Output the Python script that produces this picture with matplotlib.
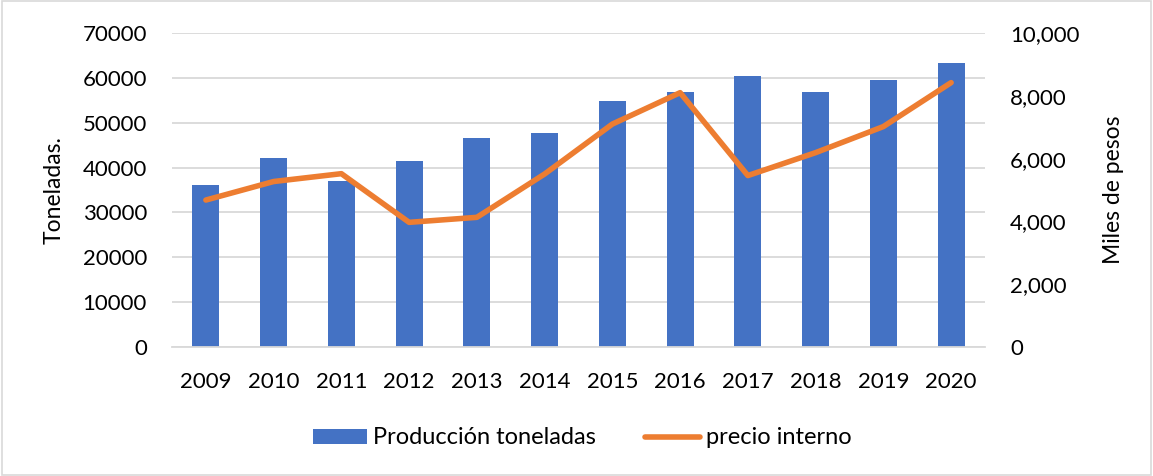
import matplotlib.pyplot as plt
from matplotlib.ticker import FuncFormatter
import numpy as np

plt.rcParams['font.family'] = ['Lato', 'DejaVu Sans']

# datos
anios = ['2009', '2010', '2011', '2012', '2013', '2014',
         '2015', '2016', '2017', '2018', '2019', '2020']
produccion = [36050, 42200, 37100, 41550, 46600, 47600,
              54800, 56750, 60450, 56900, 59600, 63350]
precio = [4680, 5270, 5520, 3970, 4130, 5510,
          7100, 8100, 5460, 6190, 7020, 8420]

azul = '#4472C4'
naranja = '#ED7D31'
gris = '#D9D9D9'

fig = plt.figure(figsize=(11.53, 4.76), dpi=100)
ax = fig.add_axes([172/1153, 1 - 347/476, (985-172)/1153, (347-33)/476])
x = np.arange(len(anios))

ax.bar(x, produccion, width=0.4, color=azul, zorder=2, label='Producción toneladas')
ax.set_xlim(-0.5, len(anios) - 0.5)
ax.set_ylim(0, 70000)
ax.set_yticks(range(0, 70001, 10000))
ax.set_xticks(x)
ax.set_xticklabels(anios)
ax.grid(axis='y', color=gris, lw=1.3, zorder=0)
for s in ['top', 'left', 'right']:
    ax.spines[s].set_visible(False)
ax.spines['bottom'].set_color(gris)
ax.spines['bottom'].set_linewidth(1.3)
ax.tick_params(length=0, labelsize=16, pad=18)
ax.set_ylabel('Toneladas.', fontsize=16.5, labelpad=13)

ax2 = ax.twinx()
ax2.plot(x, precio, color=naranja, lw=4, solid_capstyle='round', zorder=3, label='precio interno')
ax2.set_ylim(0, 10000)
ax2.set_yticks(range(0, 10001, 2000))
ax2.yaxis.set_major_formatter(FuncFormatter(lambda v, p: f'{int(v):,}'))
for s in ['top', 'left', 'right', 'bottom']:
    ax2.spines[s].set_visible(False)
ax2.tick_params(length=0, labelsize=16, pad=18)
ax2.set_ylabel('Miles de pesos', fontsize=16.5, labelpad=17)

h1, l1 = ax.get_legend_handles_labels()
h2, l2 = ax2.get_legend_handles_labels()
fig.legend(h1 + h2, l1 + l2, loc='center', bbox_to_anchor=(582/1153, 1 - 438/476),
           ncol=2, frameon=False, fontsize=17, handlelength=2.3, columnspacing=2.1,
           handletextpad=0.25, handleheight=0.6)

# marco de la figura
fig.patches.append(plt.Rectangle((0.002, 0.003), 0.996, 0.994, transform=fig.transFigure,
                                 fill=False, edgecolor=gris, lw=1.2))

fig.savefig('out.png', dpi=100)
